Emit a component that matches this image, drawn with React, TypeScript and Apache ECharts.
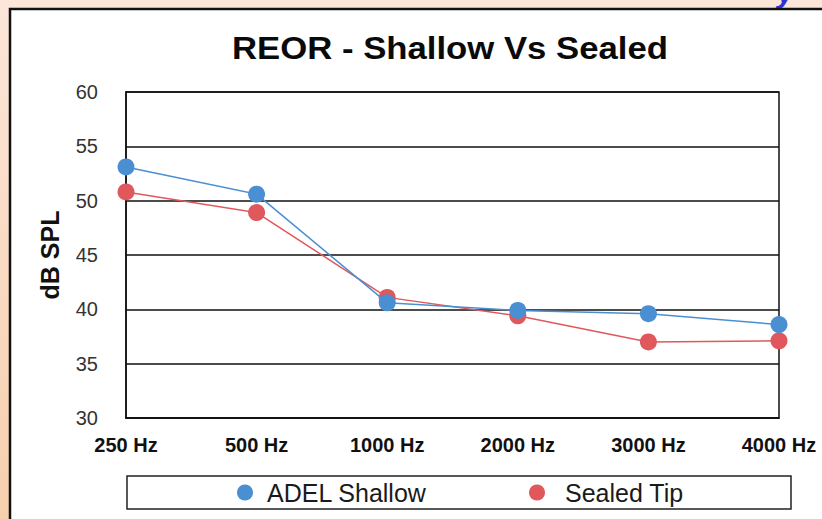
import React, { useEffect, useRef } from "react";
import * as echarts from "echarts";

const categories = ["250 Hz", "500 Hz", "1000 Hz", "2000 Hz", "3000 Hz", "4000 Hz"];
const adelShallow = [53.1, 50.6, 40.6, 39.9, 39.6, 38.6];
const sealedTip = [50.8, 48.9, 41.1, 39.4, 37.0, 37.1];
const yTicks = { min: 30, max: 60, interval: 5 };

const FONT = "'Liberation Sans', Arial, Helvetica, sans-serif";
const BLUE = "#4a8fd2";
const RED = "#e0585b";

export default function App() {
  const ref = useRef<HTMLDivElement>(null);

  useEffect(() => {
    if (!ref.current) return;
    const chart = echarts.init(ref.current, undefined, { renderer: "svg" });
    chart.setOption({
      animation: false,
      backgroundColor: {
        type: "linear",
        x: 0,
        y: 0,
        x2: 0,
        y2: 1,
        colorStops: [
          { offset: 0, color: "#fce6d9" },
          { offset: 1, color: "#f6cfae" },
        ],
      },
      textStyle: { fontFamily: FONT },
      graphic: [
        {
          type: "text",
          z: -101,
          x: 777,
          y: 7,
          style: {
            text: "y",
            fill: "#2b34d6",
            font: `italic bold 30px ${FONT}`,
            textAlign: "left",
            textVerticalAlign: "bottom",
          },
        },
        {
          type: "rect",
          z: -100,
          shape: { x: 10, y: 9, width: 840, height: 540 },
          style: { fill: "#ffffff", stroke: "#111111", lineWidth: 2.5 },
        },
        {
          type: "text",
          z: 5,
          x: 450,
          y: 48,
          scaleX: 1.085,
          style: {
            text: "REOR - Shallow Vs Sealed",
            fill: "#0a0a0a",
            font: `bold 32px ${FONT}`,
            textAlign: "center",
            textVerticalAlign: "middle",
          },
        },
        {
          type: "rect",
          z: 5,
          shape: { x: 127, y: 476, width: 664, height: 33 },
          style: { fill: "#ffffff", stroke: "#222222", lineWidth: 1.5 },
        },
      ],
      legend: [
        {
          data: ["ADEL Shallow"],
          left: 237,
          top: 480,
          padding: 0,
          icon: "circle",
          itemWidth: 34,
          itemHeight: 16,
          z: 10,
          textStyle: { fontSize: 25, color: "#1a1a1a", fontFamily: FONT },
        },
        {
          data: ["Sealed Tip"],
          left: 529,
          top: 480,
          padding: 0,
          icon: "circle",
          itemWidth: 46,
          itemHeight: 16,
          z: 10,
          textStyle: { fontSize: 25, color: "#1a1a1a", fontFamily: FONT },
        },
      ],
      grid: {
        left: 126,
        right: 43,
        top: 92,
        bottom: 101,
        show: true,
        borderColor: "#111111",
        borderWidth: 1.5,
        backgroundColor: "transparent",
      },
      xAxis: {
        type: "category",
        data: categories,
        boundaryGap: false,
        axisLine: { show: true, lineStyle: { color: "#111111", width: 1.5 } },
        axisTick: { show: false },
        axisLabel: {
          fontSize: 20,
          fontWeight: "bold",
          color: "#111111",
          margin: 17,
          fontFamily: FONT,
        },
        splitLine: { show: false },
      },
      yAxis: {
        type: "value",
        min: yTicks.min,
        max: yTicks.max,
        interval: yTicks.interval,
        name: "dB SPL",
        nameLocation: "middle",
        nameRotate: 90,
        nameGap: 64,
        nameTextStyle: { fontSize: 25, fontWeight: "bold", color: "#111111", fontFamily: FONT },
        axisLine: { show: true, lineStyle: { color: "#111111", width: 1.5 } },
        axisTick: { show: false },
        axisLabel: {
          fontSize: 20,
          color: "#333333",
          margin: 28,
          padding: [5, 0, 0, 0],
          fontFamily: FONT,
        },
        splitLine: { show: true, lineStyle: { color: "#111111", width: 1.5 } },
      },
      series: [
        {
          name: "Sealed Tip",
          type: "line",
          data: sealedTip,
          symbol: "circle",
          symbolSize: 17,
          z: 4,
          itemStyle: { color: RED },
          lineStyle: { color: RED, width: 1.5 },
        },
        {
          name: "ADEL Shallow",
          type: "line",
          data: adelShallow,
          symbol: "circle",
          symbolSize: 17,
          z: 5,
          itemStyle: { color: BLUE },
          lineStyle: { color: BLUE, width: 1.5 },
        },
      ],
    });
    return () => chart.dispose();
  }, []);

  return (
    <div
      ref={ref}
      style={{ position: "fixed", left: 0, top: 0, width: 822, height: 519 }}
    />
  );
}
